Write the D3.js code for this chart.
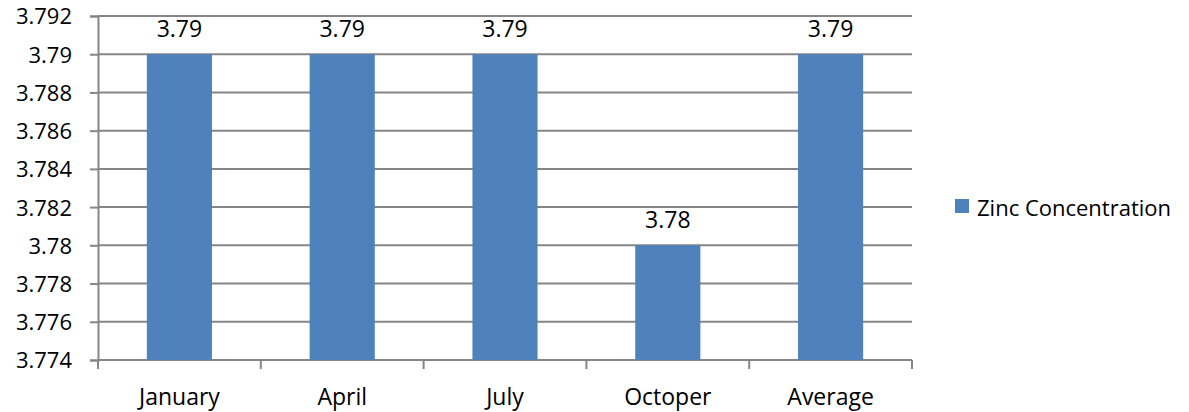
<!DOCTYPE html>
<html>
<head>
<meta charset="utf-8">
<script src="https://cdn.jsdelivr.net/npm/d3@7"></script>
<style>
  html, body { margin: 0; padding: 0; background: #fff; overflow: hidden; }
  svg { display: block; }
  svg text { font-family: "Open Sans", sans-serif; fill: #000; }
</style>
</head>
<body>
<svg id="chart" width="1189" height="412"></svg>
<script>
const months = ["January", "April", "July", "Octoper", "Average"];
const zinc = [3.79, 3.79, 3.79, 3.78, 3.79];
const yTicks = [3.774, 3.776, 3.778, 3.78, 3.782, 3.784, 3.786, 3.788, 3.79, 3.792];
const seriesName = "Zinc Concentration";

const svg = d3.select('#chart');
const margin = { top: 16, left: 98, right: 277, bottom: 52 };
const width = 1189, height = 412;
const innerWidth = width - margin.left - margin.right;
const innerHeight = height - margin.top - margin.bottom;
const gridColor = "#868686";
const barColor = "#4F81BD";
const font = '"Open Sans", sans-serif';

const xScale = d3.scaleBand()
    .domain(months)
    .range([0, innerWidth]);
const yScale = d3.scaleLinear()
    .domain([3.774, 3.792])
    .range([innerHeight, 0]);

const g = svg.append('g')
    .attr('transform', 'translate(' + margin.left + ',' + margin.top + ')');

// gridlines
g.selectAll('line.grid')
    .data(yTicks)
    .enter()
    .append('line')
    .attr('class', 'grid')
    .attr('x1', 0)
    .attr('x2', innerWidth)
    .attr('y1', d => yScale(d))
    .attr('y2', d => yScale(d))
    .attr('stroke', gridColor)
    .attr('stroke-width', 2);

// bars, Excel style gap width (bar = 40% of band)
const barW = xScale.bandwidth() * 0.4;
g.selectAll('rect')
    .data(zinc)
    .enter()
    .append('rect')
    .attr('fill', barColor)
    .attr('x', (d, i) => xScale(months[i]) + (xScale.bandwidth() - barW) / 2)
    .attr('y', d => yScale(d))
    .attr('width', barW)
    .attr('height', d => innerHeight - yScale(d));

// data labels
g.selectAll('text.val')
    .data(zinc)
    .enter()
    .append('text')
    .attr('class', 'val')
    .attr('text-anchor', 'middle')
    .attr('x', (d, i) => xScale(months[i]) + xScale.bandwidth() / 2)
    .attr('y', d => yScale(d) - 17)
    .style('font-size', '23px')
    .text(d => d3.format('.2f')(d));

// y axis
const yAxis = d3.axisLeft(yScale)
    .tickValues(yTicks)
    .tickFormat(d => d3.format('')(+d.toFixed(3)))
    .tickSize(8)
    .tickPadding(18);
const gY = g.append('g').call(yAxis);
gY.selectAll('.domain, .tick line')
    .attr('stroke', gridColor)
    .attr('stroke-width', 2);
gY.selectAll('text')
    .attr('dy', '0.36em')
    .style('font-size', '22px')
    .style('font-family', font);

// x axis
const xAxis = d3.axisBottom(xScale)
    .tickSize(0);
const gX = g.append('g')
    .attr('transform', 'translate(0,' + innerHeight + ')')
    .call(xAxis);
gX.select('.domain').remove();
gX.selectAll('text')
    .attr('y', 45)
    .attr('dy', 0)
    .style('font-size', '23px')
    .style('font-family', font);
// category separators
const seps = months.map(m => xScale(m)).concat([innerWidth]);
gX.selectAll('line.sep')
    .data(seps)
    .enter()
    .append('line')
    .attr('class', 'sep')
    .attr('x1', d => d)
    .attr('x2', d => d)
    .attr('y1', 0)
    .attr('y2', 9)
    .attr('stroke', gridColor)
    .attr('stroke-width', 2);

// legend
const legend = svg.append('g')
    .attr('transform', 'translate(955,199)');
legend.append('rect')
    .attr('width', 14)
    .attr('height', 14)
    .attr('fill', barColor);
legend.append('text')
    .attr('x', 22)
    .attr('y', 17)
    .style('font-size', '22px')
    .text(seriesName);
</script>
</body>
</html>
